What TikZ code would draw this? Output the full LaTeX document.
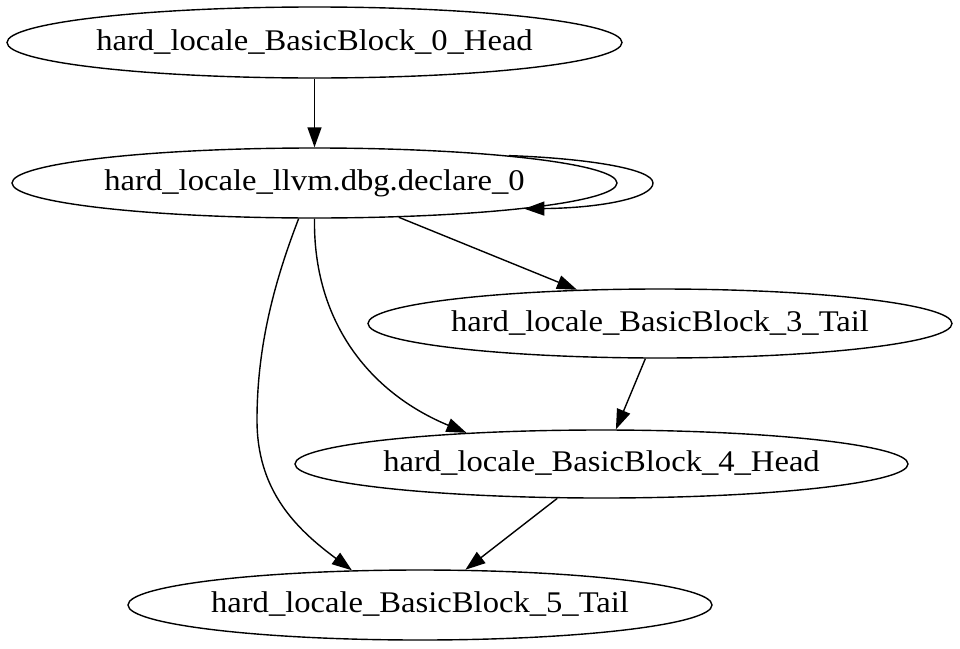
\documentclass[tikz,border=0pt]{standalone}
\usepackage{fontspec}
\setmainfont{Liberation Serif}[FakeStretch=1.087]
\usetikzlibrary{shapes.geometric,arrows.meta}
\begin{document}
\begin{tikzpicture}[x=1pt,y=-1pt,
  blk/.style={draw, ellipse, line width=1.4pt, inner sep=0pt,
    font=\fontsize{30}{36}\selectfont, text height=21pt, text depth=6pt},
  edge/.style={line width=1.4pt, -{Triangle[length=20pt,width=14pt]}}]
\useasboundingbox (0,0) rectangle (960,648);

% basic blocks of hard_locale
\node[blk, minimum width=615pt, minimum height=71pt] (h0)  at (314.5,42.5)
  {\makebox[0pt]{hard\_locale\_BasicBlock\_0\_Head}};
\node[blk, minimum width=605pt, minimum height=70pt] (dbg) at (314.5,183)
  {\makebox[0pt]{hard\_locale\_llvm.dbg.declare\_0}};
\node[blk, minimum width=584pt, minimum height=69pt] (bb3) at (660,323.5)
  {\makebox[0pt]{hard\_locale\_BasicBlock\_3\_Tail}};
\node[blk, minimum width=613pt, minimum height=68pt] (bb4) at (601.5,464)
  {\makebox[0pt]{hard\_locale\_BasicBlock\_4\_Head}};
\node[blk, minimum width=584pt, minimum height=70pt] (bb5) at (420,605)
  {\makebox[0pt]{hard\_locale\_BasicBlock\_5\_Tail}};

% control-flow edges
\draw[edge] (h0) -- (dbg);
\draw[edge] (dbg.8) .. controls (580,158) and (653,168) .. (653,183)
  .. controls (653,198) and (600,208) .. (dbg.-7.3);
\draw[edge] (dbg) -- (bb3);
\draw[edge] (dbg.-90) .. controls (313,320) and (368,392) .. (bb4.167);
\draw[edge] (dbg.246) .. controls (275,280) and (257,345) .. (257,420)
  .. controls (257,490) and (295,528) .. (bb5.153);
\draw[edge] (bb3) -- (bb4);
\draw[edge] (bb4) -- (bb5);
\end{tikzpicture}
\end{document}
